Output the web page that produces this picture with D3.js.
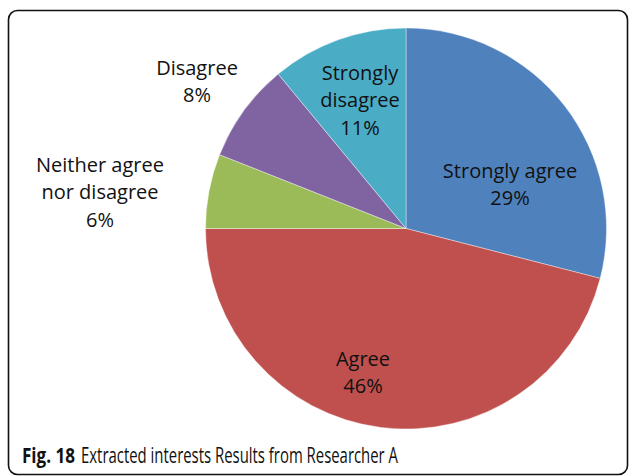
<!DOCTYPE html>
<html>
<head>
<meta charset="utf-8">
<script src="https://cdn.jsdelivr.net/npm/d3@7"></script>
<style>
  body { margin: 0; background: #fff; }
  svg { display: block; }
</style>
</head>
<body>
<div class="pie-figure"></div>
<script>
// data
let categories = ["Strongly agree", "Agree", "Neither agree nor disagree", "Disagree", "Strongly disagree"];
let percents = [29, 46, 6, 8, 11];
let colors = ["#4F81BD", "#C0504D", "#9BBB59", "#8064A2", "#4BACC6"];
// label lines (wrapped like the original)
let labelLines = [
  ["Strongly agree", "29%"],
  ["Agree", "46%"],
  ["Neither agree", "nor disagree", "6%"],
  ["Disagree", "8%"],
  ["Strongly", "disagree", "11%"]
];
let captionBold = "Fig. 18";
let captionText = "Extracted interests Results from Researcher A";

let width = 630, height = 476;
let cx = 406, cy = 228.5, radius = 200.5;

let svg = d3.select(".pie-figure")
  .append("svg")
  .attr("width", width)
  .attr("height", height);

// frame
svg.append("rect")
  .attr("x", 8.5).attr("y", 10.5)
  .attr("width", 619).attr("height", 464)
  .attr("rx", 9).attr("ry", 9)
  .attr("fill", "none")
  .attr("stroke", "#111")
  .attr("stroke-width", 1.6);

let data = categories.map((c, i) => ({ name: c, value: percents[i], lines: labelLines[i] }));

let pie = d3.pie().sort(null).value(d => d.value);
let arc = d3.arc().innerRadius(0).outerRadius(radius);

let g = svg.append("g").attr("transform", "translate(" + cx + "," + cy + ")");

g.selectAll("path")
  .data(pie(data))
  .enter()
  .append("path")
  .attr("d", arc)
  .attr("fill", (d, i) => colors[i])
  .attr("stroke", "#fff")
  .attr("stroke-width", 0.4);

// label anchor spots (centre x, first baseline) per slice, relative to pie centre
let labelPos = [
  [104, -51],
  [-43, 137],
  [-306, -57],
  [-209, -154],
  [-46, -149]
];
let lineGap = 27.5;

let labels = svg.append("g")
  .attr("font-family", "'Open Sans', 'DejaVu Sans', sans-serif")
  .attr("font-size", 20)
  .attr("fill", "#111")
  .attr("text-anchor", "middle");

data.forEach((d, i) => {
  let t = labels.append("text")
    .attr("transform", "translate(" + (cx + labelPos[i][0]) + "," + (cy + labelPos[i][1]) + ")");
  d.lines.forEach((ln, j) => {
    t.append("tspan").attr("x", 0).attr("y", j * lineGap).text(ln);
  });
});

// caption
svg.append("text")
  .attr("x", 22).attr("y", 463)
  .attr("font-family", "'Liberation Sans Narrow', 'Open Sans', sans-serif")
  .attr("font-size", 21)
  .attr("font-weight", "bold")
  .attr("fill", "#111")
  .attr("textLength", 53)
  .attr("lengthAdjust", "spacingAndGlyphs")
  .text(captionBold);

svg.append("text")
  .attr("x", 81).attr("y", 463)
  .attr("font-family", "'Liberation Sans Narrow', 'Open Sans', sans-serif")
  .attr("font-size", 21)
  .attr("fill", "#111")
  .attr("textLength", 317)
  .attr("lengthAdjust", "spacingAndGlyphs")
  .text(captionText);
</script>
</body>
</html>
